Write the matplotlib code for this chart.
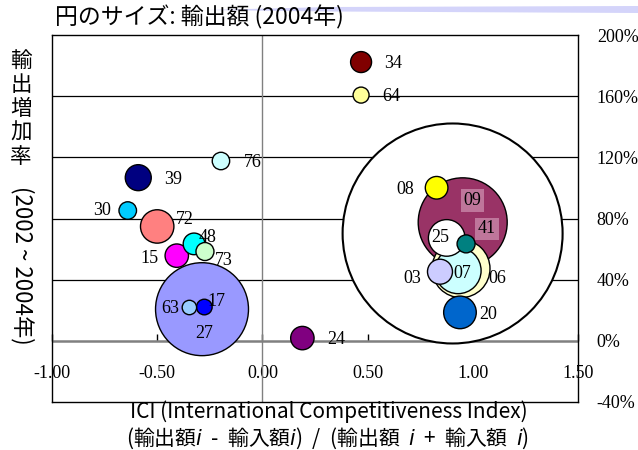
import numpy as np
import matplotlib
matplotlib.use("Agg")
import matplotlib.pyplot as plt
from matplotlib.patches import Polygon

# 品目コード / ICI / 輸出増加率(%) / 輸出額(相対値, 円の面積に比例)
codes = ["", "27", "09", "06", "07", "25", "72", "20", "39", "03", "15",
         "24", "08", "48", "34", "73", "41", "30", "76", "64", "17", "63"]
ici = [0.904, -0.287, 0.952, 0.944, 0.930, 0.876, -0.500, 0.939, -0.590, 0.844, -0.407,
       0.190, 0.828, -0.325, 0.469, -0.273, 0.968, -0.640, -0.197, 0.469, -0.276, -0.347]
growth = [70.2, 20.7, 77.5, 47.2, 45.9, 67.3, 74.8, 18.6, 106.7, 45.2, 55.7,
          1.8, 100.1, 63.4, 182.3, 58.4, 63.4, 85.2, 117.6, 160.7, 22.1, 21.8]
export = [121.0, 21.6, 19.8, 8.4, 5.3, 3.35, 2.79, 2.66, 1.69, 1.56, 1.37,
          1.37, 1.28, 1.17, 1.10, 0.81, 0.81, 0.77, 0.76, 0.64, 0.61, 0.52]
colors = ["#FFFFFF", "#9999FF", "#993366", "#FFFFCC", "#CCFFFF", "#FFFFFF", "#FF8080",
          "#0066CC", "#000080", "#CCCCFF", "#FF00FF", "#800080", "#FFFF00", "#00FFFF",
          "#800000", "#CCFFCC", "#008080", "#00CCFF", "#CCFFFF", "#FFFF99", "#0000FF",
          "#99CCFF"]

# ラベル位置 (円の中心からのピクセルずれ)
label_off = {"27": (2, -24), "09": (10, 22), "06": (36, -10), "07": (4, -3), "25": (-6, 0),
             "72": (28, 7), "20": (28, -2), "39": (35, -2), "03": (-28, -7), "15": (-27, -3),
             "24": (34, -1), "08": (-31, -2), "48": (14, 6), "34": (32, -1), "73": (19, -9),
             "41": (21, 15), "30": (-26, 0), "76": (32, -1), "64": (30, -1), "17": (12, 6),
             "63": (-19, -1)}

xticks = [-1.0, -0.5, 0.0, 0.5, 1.0, 1.5]
yticks = [-40, 0, 40, 80, 120, 160, 200]

cjk = ["Noto Sans CJK JP", "DejaVu Sans"]
serif = "Liberation Serif"

W, H = 638, 450
fig = plt.figure(figsize=(W / 100, H / 100), dpi=100)
ax = fig.add_axes([52 / W, 1 - 402 / H, 526 / W, 367 / H])
ax.set_xlim(-1.0, 1.5)
ax.set_ylim(-40, 200)

# 目盛線
for v in yticks[2:-1]:
    ax.axhline(v, color="black", lw=0.9, zorder=0.5)
ax.axhline(0, color="#808080", lw=1.8, zorder=0.6)
ax.axvline(0, color="#808080", lw=1.0, zorder=0.6)

# バブル
px2pt = 72 / 100
r_px = 10 * np.sqrt(np.array(export))
sizes = (2 * r_px * px2pt) ** 2
lws = [1.5] + [1.0] * (len(codes) - 1)
ax.scatter(ici, growth, s=sizes, c=colors, edgecolors="black", linewidths=lws, zorder=2)

for c, x, y in zip(codes, ici, growth):
    if not c:
        continue
    dx, dy = label_off[c]
    bbox = None
    if c in ("09", "41"):
        bbox = dict(facecolor="#D9A3C0", alpha=0.6, edgecolor="none", pad=2)
    ax.annotate(c, (x, y), xytext=(dx, dy), textcoords="offset pixels",
                ha="center", va="center", fontsize=13, family=serif, zorder=3, bbox=bbox)

# 軸
ax.set_xticks([])
ax.yaxis.tick_right()
ax.set_yticks(yticks)
ax.set_yticklabels([f"{v}%" for v in yticks], family=serif, fontsize=13)
ax.tick_params(axis="y", length=0, pad=13.5)
for sp in ax.spines.values():
    sp.set_linewidth(1.0)

loc = (0 - yticks[0]) / (yticks[-1] - yticks[0])
sec = ax.secondary_xaxis(loc)
sec.set_xticks(xticks)
sec.set_xticklabels([f"{v:.2f}" for v in xticks], family=serif, fontsize=13)
sec.tick_params(axis="x", direction="in", length=5, width=1, pad=17.5)
sec.spines["bottom"].set_visible(False)

# タイトル・軸ラベル
fig.text(55 / W, 1 - 17 / H, "円のサイズ: 輸出額 (2004年)", family=cjk, fontsize=16.5,
         ha="left", va="center")
fig.add_artist(Polygon([(207 / W, 1 - 10 / H), (330 / W, 1 - 7 / H), (1.0, 1 - 6 / H),
                        (1.0, 1 - 13 / H), (330 / W, 1 - 11.5 / H)],
                       closed=True, facecolor="#D4D4FA", edgecolor="none",
                       transform=fig.transFigure))

fig.text(21 / W, 1 - 109 / H, "輸\n出\n増\n加\n率", family=cjk, fontsize=15.5,
         ha="center", va="center", linespacing=1.12)
fig.text(22 / W, 1 - 265 / H, "(2002 ~ 2004年)", family=cjk, fontsize=16,
         ha="center", va="center", rotation=-90)

fig.text(329 / W, 1 - 412 / H, "ICI (International Competitiveness Index)", family=cjk,
         fontsize=15, ha="center", va="center")
plt.rcParams["mathtext.fontset"] = "dejavusans"
fig.text(328 / W, 1 - 438 / H,
         r"(輸出額$\it{i}$  -  輸入額$\it{i}$)  /  (輸出額  $\it{i}$  +  輸入額  $\it{i}$)",
         family=cjk, fontsize=15, ha="center", va="center")

fig.savefig("out.png", dpi=100)
